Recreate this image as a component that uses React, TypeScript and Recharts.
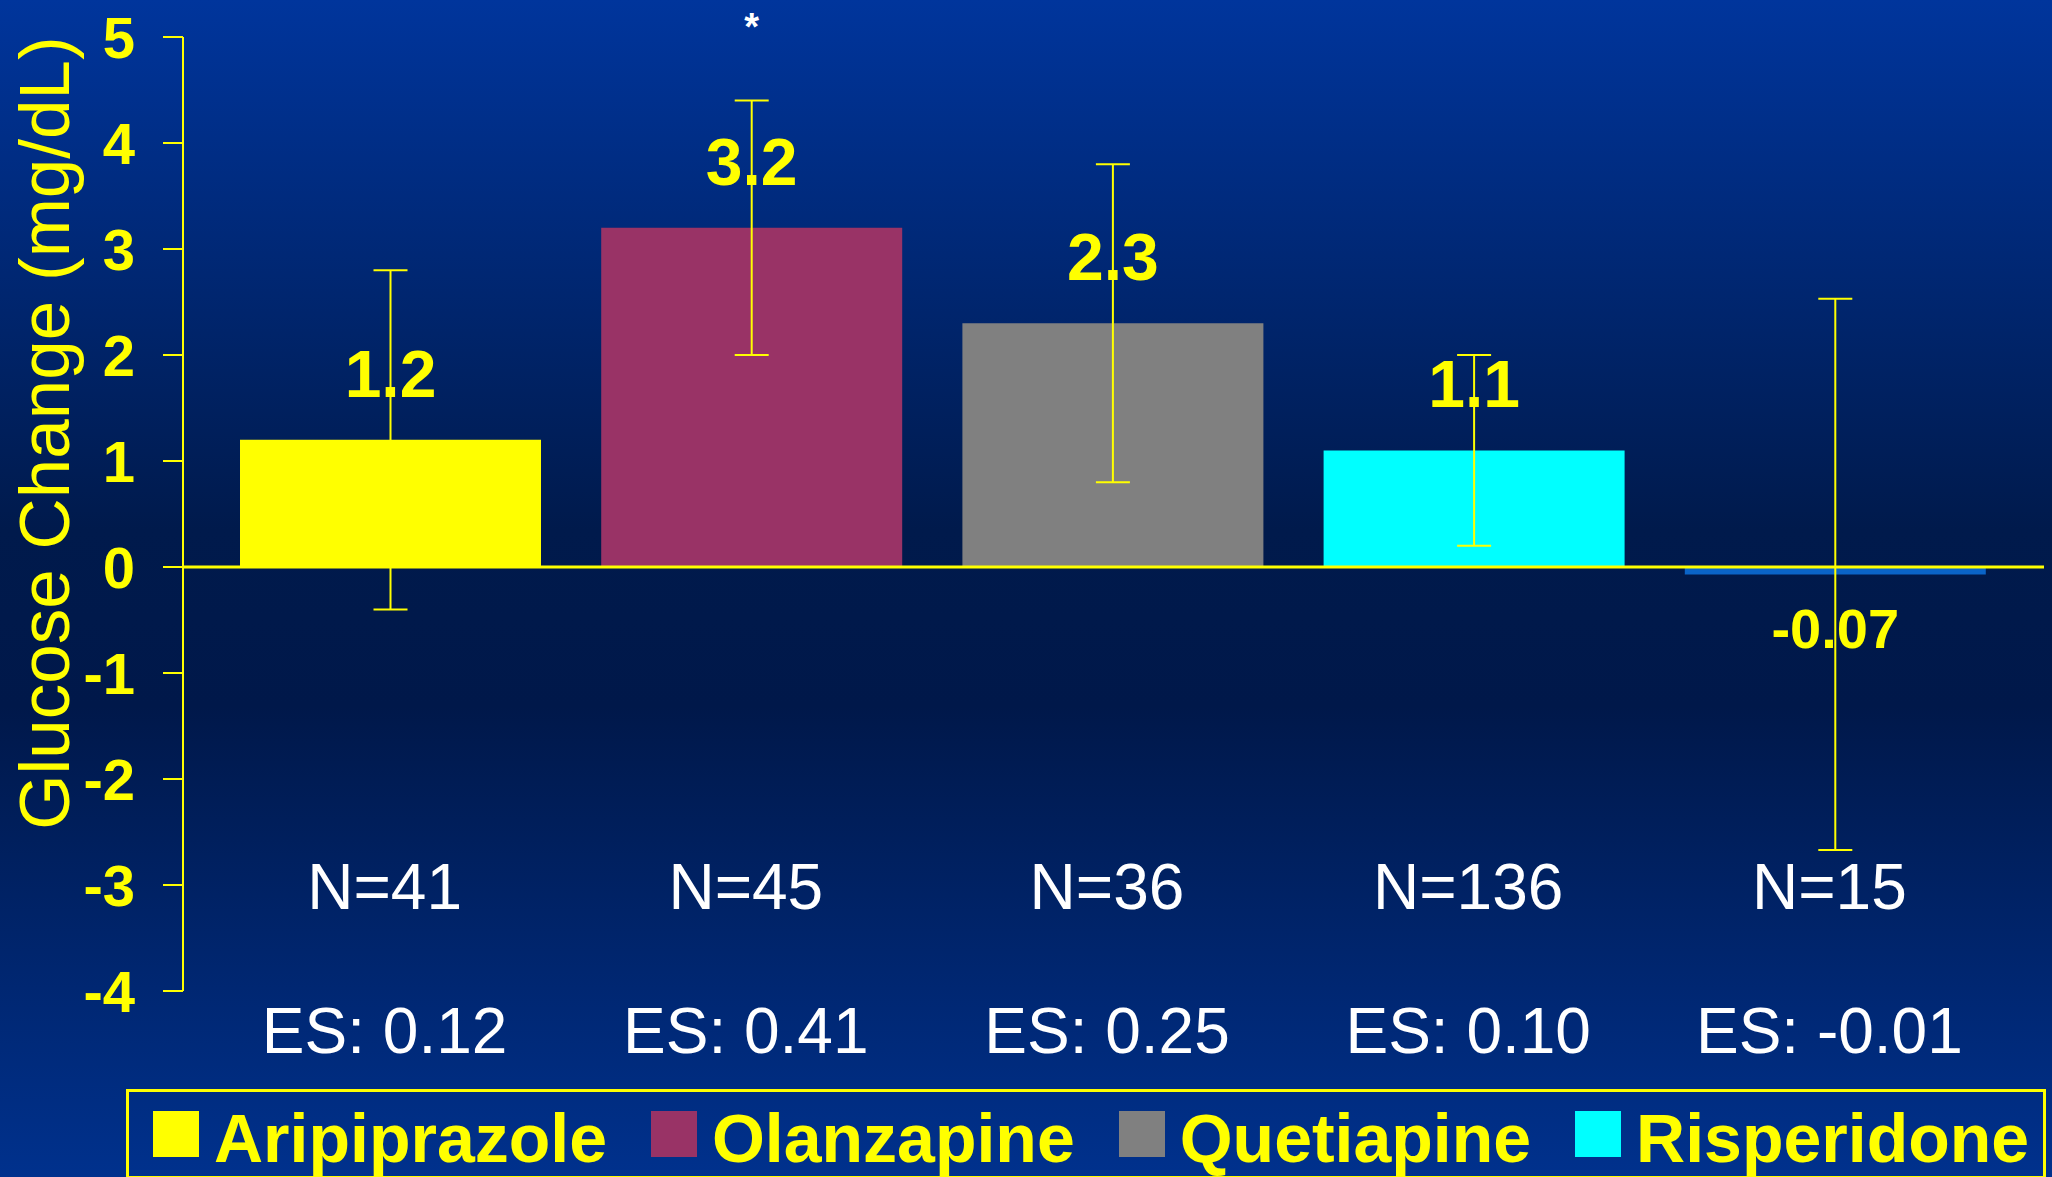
import { BarChart, Bar, XAxis, YAxis, ReferenceLine, ErrorBar, LabelList, Cell, Label } from 'recharts';

const DRUGS = ['Aripiprazole', 'Olanzapine', 'Quetiapine', 'Risperidone', 'Ziprasidone'];
const GLUCOSE_CHANGE = [1.2, 3.2, 2.3, 1.1, -0.07];
const ERROR = [1.6, 1.2, 1.5, 0.9, 2.6];
const N_LABELS = ['N=41', 'N=45', 'N=36', 'N=136', 'N=15'];
const ES_LABELS = ['ES: 0.12', 'ES: 0.41', 'ES: 0.25', 'ES: 0.10', 'ES: -0.01'];
const SIGNIFICANCE = ['', '*', '', '', ''];
const BAR_COLORS = ['#ffff00', '#993366', '#808080', '#00ffff', '#0a64c8'];
const Y_TICKS = [-4, -3, -2, -1, 0, 1, 2, 3, 4, 5];
const LEGEND_COUNT = 4;

const FONT = '"Liberation Sans", Arial, sans-serif';
const YELLOW = '#ffff00';

const data = DRUGS.map((name, i) => ({
  name,
  value: GLUCOSE_CHANGE[i],
  err: ERROR[i],
  sig: SIGNIFICANCE[i],
}));

const ValueLabel = (props: any) => {
  const { x, y, width, height, value } = props;
  const top = Math.min(y, y + height);
  const bottom = Math.max(y, y + height);
  const neg = value < 0;
  return (
    <text
      x={x + width / 2}
      y={neg ? bottom + 74 : top - 43}
      textAnchor="middle"
      fill={YELLOW}
      fontFamily={FONT}
      fontWeight="bold"
      fontSize={neg ? 56 : 66}
    >
      {value}
    </text>
  );
};

const SigLabel = (props: any) => {
  const { x, width, value } = props;
  if (!value) return null;
  return (
    <text x={x + width / 2} y={40} textAnchor="middle" fill="#ffffff" fontFamily={FONT} fontWeight="bold" fontSize={38}>
      {value}
    </text>
  );
};

const CategoryTick = (props: any) => {
  const { x, y, payload } = props;
  const i = payload.index;
  return (
    <g>
      <text x={x - 6} y={y - 82} textAnchor="middle" fill="#ffffff" fontFamily={FONT} fontSize={64}>
        {N_LABELS[i]}
      </text>
      <text x={x - 6} y={y + 62} textAnchor="middle" fill="#ffffff" fontFamily={FONT} fontSize={64}>
        {ES_LABELS[i]}
      </text>
    </g>
  );
};

export default function App() {
  return (
    <div
      style={{
        position: 'absolute',
        left: 0,
        top: 0,
        width: 2052,
        height: 1177,
        overflow: 'hidden',
        background: 'linear-gradient(to bottom, #00359c 0%, #001a4c 45%, #00184a 60%, #00318d 100%)',
        fontFamily: FONT,
      }}
    >
      <BarChart width={2052} height={1177} data={data} margin={{ top: 37, right: 8, bottom: 86, left: 0 }}>
        <XAxis
          dataKey="name"
          axisLine={false}
          tickLine={false}
          tickSize={0}
          tickMargin={0}
          height={100}
          interval={0}
          padding={{ left: 27, right: 28 }}
          tick={<CategoryTick />}
        />
        <YAxis
          domain={[-4, 5]}
          ticks={Y_TICKS}
          interval={0}
          width={183}
          tickSize={20}
          tickMargin={28}
          axisLine={{ stroke: YELLOW, strokeWidth: 2 }}
          tickLine={{ stroke: YELLOW, strokeWidth: 2 }}
          tick={{ fill: YELLOW, fontSize: 58, fontWeight: 'bold', fontFamily: FONT }}
        >
          <Label
            content={() => (
              <text
                x={69}
                y={433}
                transform="rotate(-90, 69, 433)"
                textAnchor="middle"
                fill={YELLOW}
                fontFamily={FONT}
                fontSize={71}
              >
                Glucose Change (mg/dL)
              </text>
            )}
          />
        </YAxis>
        <Bar dataKey="value" barSize={301} isAnimationActive={false}>
          {data.map((d, i) => (
            <Cell key={d.name} fill={BAR_COLORS[i]} />
          ))}
          <LabelList dataKey="value" content={<ValueLabel />} />
          <LabelList dataKey="sig" content={<SigLabel />} />
          <ErrorBar dataKey="err" width={17} stroke={YELLOW} strokeWidth={2} direction="y" isAnimationActive={false} />
        </Bar>
        <ReferenceLine y={0} stroke={YELLOW} strokeWidth={3} />
      </BarChart>
      <div
        style={{
          position: 'absolute',
          left: 126,
          top: 1089,
          width: 1890,
          height: 84,
          border: `3px solid ${YELLOW}`,
          display: 'flex',
          alignItems: 'center',
          paddingLeft: 24,
          boxSizing: 'content-box',
          overflow: 'hidden',
        }}
      >
        {DRUGS.slice(0, LEGEND_COUNT).map((name, i) => (
          <div key={name} style={{ display: 'flex', alignItems: 'center', marginRight: 44, flexShrink: 0 }}>
            <div style={{ width: 46, height: 46, background: BAR_COLORS[i], marginRight: 15 }} />
            <span
              style={{
                color: YELLOW,
                fontWeight: 'bold',
                fontSize: 68,
                lineHeight: '68px',
                fontFamily: FONT,
                position: 'relative',
                top: 4,
              }}
            >
              {name}
            </span>
          </div>
        ))}
      </div>
    </div>
  );
}
